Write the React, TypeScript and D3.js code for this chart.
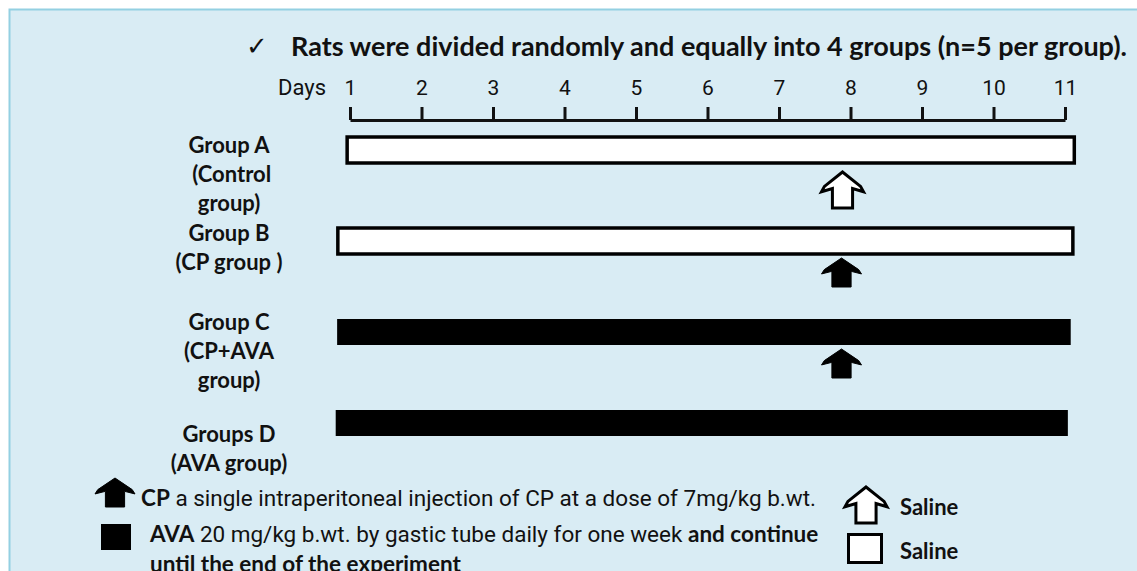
import { useEffect, useRef } from "react";
import * as d3 from "d3";

const width = 1137, height = 571;

// experiment days on the time line
const days = [1, 2, 3, 4, 5, 6, 7, 8, 9, 10, 11];

// groups, their label lines and the span of daily treatment (in days)
const groups = ["A", "B", "C", "D"];
const groupLabels = [
  ["Group A", " (Control", "group)"],
  ["Group B", "(CP group )"],
  ["Group C", "(CP+AVA", "group)"],
  ["Groups D", "(AVA group)"],
];
const barStart = [0.96, 0.83, 0.82, 0.8];
const barEnd = [11.13, 11.11, 11.08, 11.04];
const dailyTreatment = ["saline", "saline", "ava", "ava"];

// single injections
const injectionGroup = ["A", "B", "C"];
const injectionDay = [8, 8, 8];
const injectionKind = ["saline", "cp", "cp"];

const title = "Rats were divided randomly and equally into 4 groups (n=5 per group).";

const margin = { left: 350, right: 72 };
const bold = "Lato, 'Open Sans', sans-serif";
const plain = "Roboto, 'Liberation Sans', sans-serif";

// up arrow with flared head, apex at (cx, top)
const arrowPath = (cx: number, top: number, w: number, h: number) => {
  const hw = w / 2;
  const pts: [number, number][] = [
    [0, 0],
    [hw * 0.86, h * 0.4],
    [hw, h * 0.55],
    [hw * 0.48, h * 0.46],
    [hw * 0.48, h],
    [-hw * 0.48, h],
    [-hw * 0.48, h * 0.46],
    [-hw, h * 0.55],
    [-hw * 0.86, h * 0.4],
  ];
  return d3.line()(pts.map(([x, y]) => [cx + x, top + y])) + "Z";
};

const App = () => {
  const axisRef = useRef<SVGGElement>(null);

  const x = d3.scaleLinear().domain([1, 11]).range([margin.left, width - margin.right]);
  const y = d3.scalePoint().domain(groups).range([150, 423]);

  useEffect(() => {
    const g = d3.select(axisRef.current);
    g.selectAll("*").remove();
    g.call(d3.axisTop(x).tickValues(days).tickSize(13).tickSizeOuter(0).tickPadding(12).tickFormat(d3.format("d")))
      .call(g => g.selectAll("path, line").attr("stroke", "#111").attr("stroke-width", 3))
      .call(g => g.selectAll("text").attr("fill", "#111").style("font-family", plain).style("font-size", "21px"));
  }, []);

  const labelDy = [3, 0, -2, 19];
  const lineH = 29;

  return (
    <svg width={width} height={height} style={{ position: "absolute", left: 0, top: 0 }}>
      <rect x={0} y={0} width={width} height={height} fill="#fff" />
      <rect x={9.5} y={9.5} width={width + 20} height={height + 20} fill="#d9ecf4" stroke="#93d0e2" strokeWidth={2} />

      <text x={246} y={55} fontFamily="'DejaVu Sans', sans-serif" fontSize={26} fill="#111">✓</text>
      <text x={291} y={56} fontFamily={bold} fontWeight={700} fontSize={27} fill="#111">{title}</text>

      <text x={326} y={95} textAnchor="end" fontFamily={plain} fontSize={22} fill="#111">Days</text>
      <g ref={axisRef} transform="translate(0,120)" />

      {groups.map((g, i) => (
        <g key={g}>
          {groupLabels[i].map((line, j) => (
            <text key={j} x={229} y={(y(g) as number) + labelDy[i] + j * lineH} textAnchor="middle"
              fontFamily={bold} fontWeight={700} fontSize={22} fill="#111" style={{ whiteSpace: "pre" }}>{line}</text>
          ))}
          <rect
            x={x(barStart[i])}
            y={(y(g) as number) - 13}
            width={x(barEnd[i]) - x(barStart[i])}
            height={26}
            fill={dailyTreatment[i] === "ava" ? "#000" : "#fff"}
            stroke="#000"
            strokeWidth={dailyTreatment[i] === "ava" ? 0 : 3.5}
          />
        </g>
      ))}

      {injectionGroup.map((g, i) => {
        const hollow = injectionKind[i] === "saline";
        return (
          <path key={i}
            d={hollow ? arrowPath(x(injectionDay[i]) - 8, (y(g) as number) + 22, 42, 36)
                      : arrowPath(x(injectionDay[i]) - 9, (y(g) as number) + 17, 40, 29)}
            fill={hollow ? "#fff" : "#000"} stroke="#000" strokeWidth={hollow ? 3 : 1} strokeLinejoin="miter" />
        );
      })}

      {/* legend */}
      <path d={arrowPath(115, 478, 40, 29)} fill="#000" stroke="#000" strokeWidth={1} />
      <text x={141} y={506} fontSize={22.5} fill="#111">
        <tspan fontFamily={bold} fontWeight={700}>CP</tspan>
        <tspan fontFamily={plain}> a single intraperitoneal injection of CP at a dose of 7mg/kg b.wt.</tspan>
      </text>
      <rect x={101} y={524} width={30} height={26} fill="#000" />
      <text x={150} y={542} fontSize={22.5} fill="#111">
        <tspan fontFamily={bold} fontWeight={700}>AVA</tspan>
        <tspan fontFamily={plain}> 20 mg/kg b.wt. by gastic tube daily for one week </tspan>
        <tspan fontFamily={bold} fontWeight={700}>and continue</tspan>
      </text>
      <text x={150} y={572} fontSize={22.5} fill="#111" fontFamily={bold} fontWeight={700}>until the end of the experiment</text>

      <path d={arrowPath(866, 487, 42, 36)} fill="#fff" stroke="#000" strokeWidth={3} />
      <text x={900} y={515} fontFamily={bold} fontWeight={700} fontSize={22} fill="#111">Saline</text>
      <rect x={848.5} y={534.5} width={33} height={28} fill="#fff" stroke="#000" strokeWidth={3} />
      <text x={900} y={559} fontFamily={bold} fontWeight={700} fontSize={22} fill="#111">Saline</text>
    </svg>
  );
};

export default App;
